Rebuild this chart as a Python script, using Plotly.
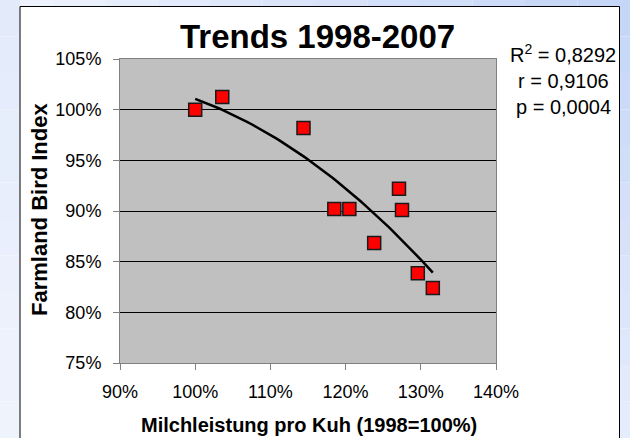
import numpy as np
import plotly.graph_objects as go

# Milchleistung pro Kuh (1998=100%) vs. Farmland Bird Index, one point per year
milk_yield = [100.0, 103.6, 114.4, 118.5, 120.5, 123.8, 127.1, 127.5, 129.6, 131.6]
bird_index = [100.0, 101.25, 98.2, 90.2, 90.2, 86.85, 92.2, 90.1, 83.85, 82.4]

x_ticks = [90, 100, 110, 120, 130, 140]
y_ticks = [75, 80, 85, 90, 95, 100, 105]
stats_lines = ["R<sup>2</sup> = 0,8292", "r = 0,9106", "p = 0,0004"]

# polynomial trend line (order 2), as in the Excel chart
coef = np.polyfit(milk_yield, bird_index, 2)
trend_x = np.linspace(min(milk_yield), max(milk_yield), 60)
trend_y = np.polyval(coef, trend_x)

fig = go.Figure()
fig.add_trace(go.Scatter(
    x=trend_x, y=trend_y, mode="lines",
    line=dict(color="black", width=2.5),
    hoverinfo="skip",
))
fig.add_trace(go.Scatter(
    x=milk_yield, y=bird_index, mode="markers",
    marker=dict(symbol="square", size=13, color="#ff0000",
                line=dict(color="#1a1a1a", width=1.5)),
))

# plot area is 120..496 px wide and 59..363 px high -> helpers for paper coords
def px_x(p):
    return (p - 120) / 376.0

def px_y(p):
    return (363 - p) / 304.0

light = np.array([240, 244, 253])
blue = np.array([196, 213, 247])

def mix(t):
    c = (light + (blue - light) * t).astype(int)
    return "rgb(%d,%d,%d)" % tuple(c)

# light blue slide background round the white chart panel (diagonal gradient)
n = 12
for i in range(n):
    x0, x1 = 630 * i / n, 630 * (i + 1) / n
    fig.add_shape(type="rect", xref="paper", yref="paper",
                  x0=px_x(x0), x1=px_x(x1), y0=px_y(7), y1=px_y(0),
                  fillcolor=mix((i + 0.5) / n), line_width=0, layer="below")
    y0, y1 = 438 * i / n, 438 * (i + 1) / n
    fig.add_shape(type="rect", xref="paper", yref="paper",
                  x0=px_x(620), x1=px_x(630), y0=px_y(y1), y1=px_y(y0),
                  fillcolor=mix(1 - 0.8 * (i + 0.5) / n), line_width=0, layer="below")
    fig.add_shape(type="rect", xref="paper", yref="paper",
                  x0=px_x(0), x1=px_x(20), y0=px_y(y1), y1=px_y(y0),
                  fillcolor=mix(0.3 * (1 - (i + 0.5) / n)), line_width=0, layer="below")
fig.add_shape(type="rect", xref="paper", yref="paper",
              x0=px_x(20), x1=px_x(619.5), y0=px_y(450), y1=px_y(6.5),
              line=dict(color="black", width=1), layer="above")

font = "Arial, Liberation Sans, sans-serif"

fig.add_annotation(text="<b>Trends 1998-2007</b>", xref="paper", yref="paper",
                   x=px_x(317), y=px_y(36), showarrow=False,
                   xanchor="center", yanchor="middle",
                   font=dict(family=font, size=33, color="black"))
fig.add_annotation(text="<b>Farmland Bird Index</b>", xref="paper", yref="paper",
                   x=px_x(39), y=px_y(210), textangle=-90, showarrow=False,
                   xanchor="center", yanchor="middle",
                   font=dict(family=font, size=22, color="black"))
fig.add_annotation(text="<b>Milchleistung pro Kuh (1998=100%)</b>", xref="paper", yref="paper",
                   x=px_x(309), y=px_y(425), showarrow=False,
                   xanchor="center", yanchor="middle",
                   font=dict(family=font, size=20, color="black"))
for txt, yy in zip(stats_lines, [54, 81, 107]):
    fig.add_annotation(text=txt, xref="paper", yref="paper",
                       x=px_x(563), y=px_y(yy), showarrow=False,
                       xanchor="center", yanchor="middle",
                       font=dict(family=font, size=20, color="black"))

fig.update_layout(
    width=630, height=438,
    margin=dict(l=120, r=134, t=59, b=75),
    paper_bgcolor="white",
    plot_bgcolor="#c0c0c0",
    showlegend=False,
    font=dict(family=font, size=18, color="black"),
)
fig.update_xaxes(
    range=[90, 140], tickvals=x_ticks, ticktext=["%d%%" % v for v in x_ticks],
    showgrid=False, zeroline=False,
    showline=True, linecolor="#808080", linewidth=1, mirror=True,
    ticks="outside", ticklen=6, tickcolor="#808080", ticklabelstandoff=6,
)
fig.update_yaxes(
    range=[75, 105], tickvals=y_ticks, ticktext=["%d%%" % v for v in y_ticks],
    showgrid=True, gridcolor="black", gridwidth=1, zeroline=False,
    showline=True, linecolor="#808080", linewidth=1, mirror=True,
    ticks="outside", ticklen=6, tickcolor="#808080", ticklabelstandoff=8,
)

# the page's default body margin would shift the chart by 8px
fig.write_html("out.html", config={"displayModeBar": False},
               post_script="document.body.style.margin = '0';")
